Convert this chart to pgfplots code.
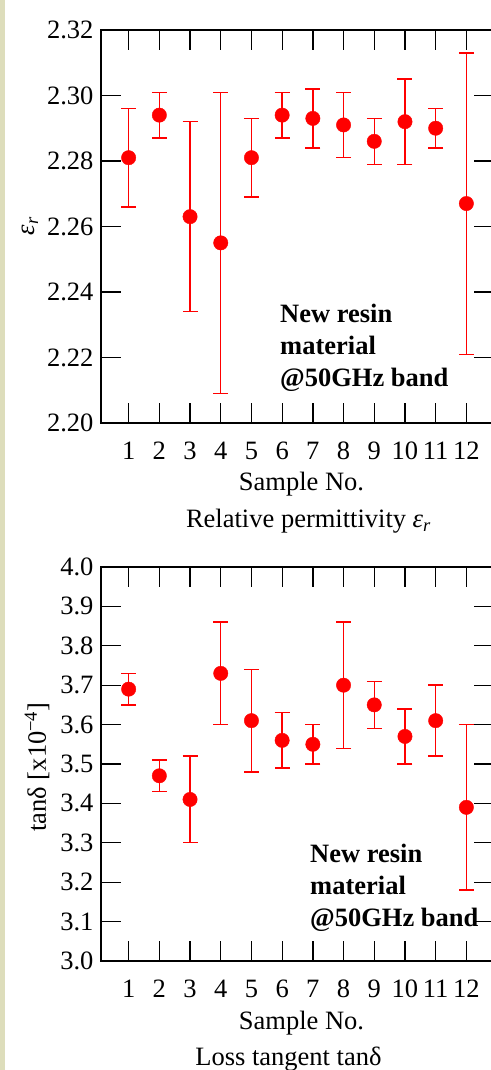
\documentclass[border=0pt]{standalone}
\usepackage{fontspec}
\setmainfont{Liberation Serif}
\usepackage{pgfplots}
\usepackage{pgfplotstable}
\pgfplotsset{compat=1.18}
\definecolor{strip}{HTML}{DDDDBB}

% eps_r: sample, mean, upper, lower
\pgfplotstableread{
x  y     hi    lo
1  2.281 2.296 2.266
2  2.294 2.301 2.287
3  2.263 2.292 2.234
4  2.255 2.301 2.209
5  2.281 2.293 2.269
6  2.294 2.301 2.287
7  2.293 2.302 2.284
8  2.291 2.301 2.281
9  2.286 2.293 2.279
10 2.292 2.305 2.279
11 2.290 2.296 2.284
12 2.267 2.313 2.221
}\epsdata

% tan delta [x10^-4]
\pgfplotstableread{
x  y    hi   lo
1  3.69 3.73 3.65
2  3.47 3.51 3.43
3  3.41 3.52 3.30
4  3.73 3.86 3.60
5  3.61 3.74 3.48
6  3.56 3.63 3.49
7  3.55 3.60 3.50
8  3.70 3.86 3.54
9  3.65 3.71 3.59
10 3.57 3.64 3.50
11 3.61 3.70 3.52
12 3.39 3.60 3.18
}\tandata

\newcommand{\bigfont}{\fontsize{26.5bp}{32bp}\selectfont}

\pgfplotsset{
  panel/.style={
    scale only axis, width=393bp,
    xmin=0.1, xmax=12.9, xtick={1,...,12},
    axis line style={line width=1.3bp, black},
    tick style={line width=1.3bp, black},
    major tick length=20bp, tick align=inside,
    xtick pos=both, ytick pos=both,
    tick label style={font=\bigfont},
    /pgf/number format/assume math mode=true,
    xticklabel style={anchor=base, yshift=-37bp},
    yticklabel style={xshift=-4bp},
    scaled y ticks=false,
  },
  pts/.style={
    only marks, mark=*, color=red, mark size=7.2bp,
    error bars/.cd, y dir=both, y explicit,
    error bar style={line width=1.4bp, red},
    error mark options={rotate=90, mark size=7.5bp, line width=1.4bp, red},
  },
}

\begin{document}
\begin{tikzpicture}[x=1bp, y=1bp]
\path[use as bounding box] (0,0) rectangle (491,1070);
\clip (0,0) rectangle (491,1070);
\fill[strip] (0,0) rectangle (5,1070);

\begin{axis}[panel, at={(101bp,647bp)}, anchor=south west, height=393bp,
    ymin=2.20, ymax=2.32, ytick={2.20,2.22,2.24,2.26,2.28,2.30,2.32},
    yticklabel style={/pgf/number format/.cd, fixed, fixed zerofill, precision=2}]
\addplot[pts] table[x=x, y=y,
    y error plus expr=\thisrow{hi}-\thisrow{y},
    y error minus expr=\thisrow{y}-\thisrow{lo}] {\epsdata};
\end{axis}

\begin{axis}[panel, at={(101bp,109bp)}, anchor=south west, height=394bp,
    ymin=3.0, ymax=4.0, ytick={3.0,3.1,3.2,3.3,3.4,3.5,3.6,3.7,3.8,3.9,4.0},
    yticklabel style={/pgf/number format/.cd, fixed, fixed zerofill, precision=1}]
\addplot[pts] table[x=x, y=y,
    y error plus expr=\thisrow{hi}-\thisrow{y},
    y error minus expr=\thisrow{y}-\thisrow{lo}] {\tandata};
\end{axis}

% labels and captions
\node[rotate=90, font=\bigfont] at (30,844) {\textit{ε}\textsubscript{\textit{r}}};
\node[anchor=base, font=\bigfont] at (301.5,579) {Sample No.};
\node[anchor=base, font=\bigfont] at (308.5,542) {Relative permittivity \textit{ε}\textsubscript{\textit{r}}};
\node[anchor=base west, font=\bigfont\bfseries, inner sep=0] at (280,747) {New resin};
\node[anchor=base west, font=\bigfont\bfseries, inner sep=0] at (280,715) {material};
\node[anchor=base west, font=\bigfont\bfseries, inner sep=0] at (280,683) {@50GHz band};

\node[rotate=90, font=\bigfont] at (37,303) {tanδ [x10\textsuperscript{−4}]};
\node[anchor=base, font=\bigfont] at (301.5,40) {Sample No.};
\node[anchor=base, font=\bigfont] at (288.5,4) {Loss tangent tanδ};
\node[anchor=base west, font=\bigfont\bfseries, inner sep=0] at (310,207) {New resin};
\node[anchor=base west, font=\bigfont\bfseries, inner sep=0] at (310,175) {material};
\node[anchor=base west, font=\bigfont\bfseries, inner sep=0] at (310,143) {@50GHz band};
\end{tikzpicture}
\end{document}
